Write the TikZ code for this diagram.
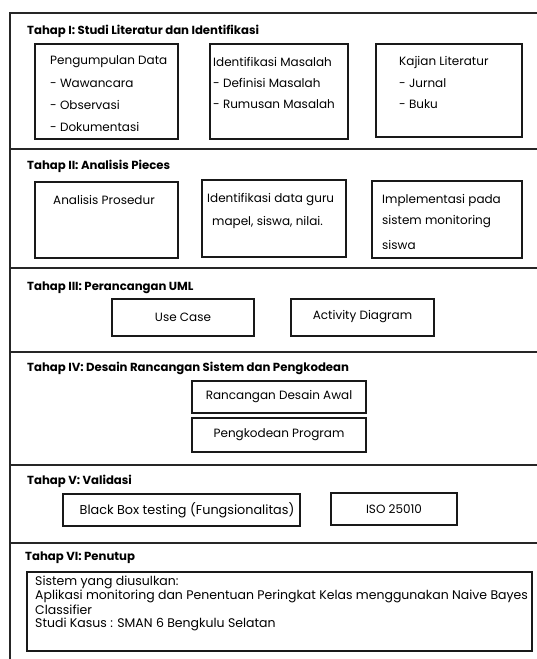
\documentclass[tikz,border=0pt]{standalone}
\usepackage{fontspec}
\setmainfont{Poppins}
\begin{document}
\begin{tikzpicture}[x=1pt,y=-1pt,
  box/.style={draw=black!90, line width=1.8pt, inner sep=0pt},
  sep/.style={draw=black!85, line width=1.3pt},
  txt/.style={anchor=west, inner sep=0pt, font=\fontsize{12}{14}\selectfont, text=black},
  ctxt/.style={inner sep=0pt, font=\fontsize{12}{14}\selectfont, text=black},
  ltxt/.style={anchor=west, inner sep=0pt, font=\fontsize{12.5}{14}\selectfont, text=black},
  ttl/.style={anchor=west, inner sep=0pt, font=\fontsize{11.7}{14}\selectfont\bfseries, text=black}]
\useasboundingbox (0,0) rectangle (537,659);
% outer frame
\coordinate (tl) at (10,13);
\coordinate (tr) at (537,13);
\coordinate (bl) at (10,659);
\draw[sep] (tr) -- (tl) -- (bl);
% separators
\foreach \y/\n in {149/s1,268/s2,352/s3,465/s4,543/s5}{
  \coordinate (\n a) at (10,\y);
  \coordinate (\n b) at (537,\y);
  \draw[sep] (\n a) -- (\n b);
}
% Tahap I
\node[ttl] (t1) at (27,31) {Tahap I: Studi Literatur dan Identifikasi};
\draw[box] (35,44) rectangle (178,139);
\draw[box] (210,44) rectangle (348,139);
\draw[box] (376,44) rectangle (522,137);
\node[txt] (a1) at (50,62) {Pengumpulan Data};
\node[txt] (a2) at (50,83) {- Wawancara};
\node[txt] (a3) at (50,104.5) {- Observasi};
\node[txt] (a4) at (50,127) {- Dokumentasi};
\node[txt] (b1) at (213,62) {Identifikasi Masalah};
\node[txt] (b2) at (213,83) {- Definisi Masalah};
\node[txt] (b3) at (213,104.5) {- Rumusan Masalah};
\node[txt] (c1) at (399,62) {Kajian Literatur};
\node[txt] (c2) at (399,83) {- Jurnal};
\node[txt] (c3) at (399,104.5) {- Buku};
% Tahap II
\node[ttl] (t2) at (27,166) {Tahap II: Analisis Pieces};
\draw[box] (35,182) rectangle (178,258);
\draw[box] (202,180) rectangle (346,257);
\draw[box] (372,181) rectangle (522,258);
\node[txt] (d1) at (53,200) {Analisis Prosedur};
\node[txt] (e1) at (207,200) {Identifikasi data guru};
\node[txt] (e2) at (212,222) {mapel, siswa, nilai.};
\node[txt] (f1) at (382,200) {Implementasi pada};
\node[txt] (f2) at (382,222) {sistem monitoring};
\node[txt] (f3) at (382,245) {siswa};
% Tahap III
\node[ttl] (t3) at (27,288) {Tahap III: Perancangan UML};
\draw[box] (112,299) rectangle (254,336);
\draw[box] (291,299) rectangle (434,336);
\node[ctxt] (g1) at (183,317) {Use Case};
\node[ctxt] (g2) at (362.5,317) {Activity Diagram};
% Tahap IV
\node[ttl] (t4) at (27,368) {Tahap IV: Desain Rancangan Sistem dan Pengkodean};
\draw[box] (192,381) rectangle (366,413);
\draw[box] (192,418) rectangle (366,452);
\node[ctxt] (h1) at (279,397) {Rancangan Desain Awal};
\node[ctxt] (h2) at (279,435) {Pengkodean Program};
% Tahap V
\node[ttl] (t5) at (27,481) {Tahap V: Validasi};
\draw[box] (63,494) rectangle (300,526);
\draw[box] (331,493) rectangle (457,525);
\node[ctxt, font=\fontsize{12.8}{14}\selectfont] (i1) at (187,510) {Black Box testing (Fungsionalitas)};
\node[ctxt] (i2) at (394,509) {ISO 25010};
% Tahap VI
\node[ttl] (t6) at (25,558) {Tahap VI: Penutup};
\draw[box] (27,572) rectangle (532,651);
\node[ltxt] (j1) at (35,582) {Sistem yang diusulkan:};
\node[ltxt] (j2) at (35,596) {Aplikasi monitoring dan Penentuan Peringkat Kelas menggunakan Naive Bayes};
\node[ltxt] (j3) at (35,610) {Classifier};
\node[ltxt] (j4) at (35,624) {Studi Kasus : SMAN 6 Bengkulu Selatan};
\end{tikzpicture}
\end{document}
